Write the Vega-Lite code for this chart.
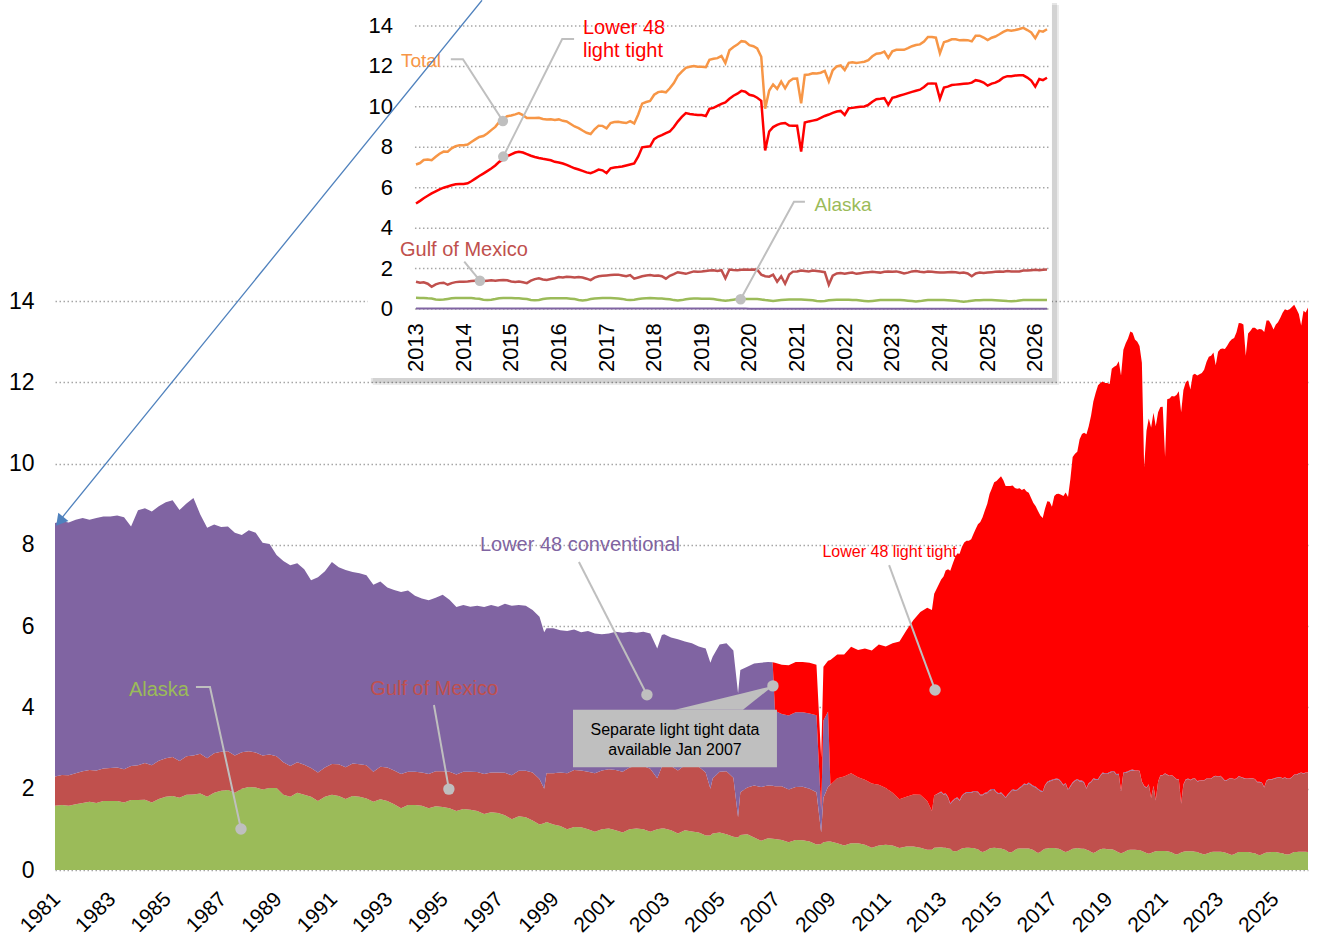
{
"$schema": "https://vega.github.io/schema/vega-lite/v6.json",
"width": 1253, "height": 569,
"autosize": {"type": "none"},
"padding": {"left": 55, "top": 301, "right": 10, "bottom": 65},
"background": "#ffffff",
"config": {"view": {"stroke": null}, "font": "Liberation Sans", "axis": {"labelFont": "Liberation Sans"}, "text": {"font": "Liberation Sans"}},
"datasets": {
"prod": [
{"d":"1981-01","alaska":1.58,"gulf":0.72,"l48conv":6.24,"l48tight":0},
{"d":"1981-04","alaska":1.6,"gulf":0.74,"l48conv":6.24,"l48tight":0},
{"d":"1981-07","alaska":1.58,"gulf":0.75,"l48conv":6.22,"l48tight":0},
{"d":"1981-10","alaska":1.62,"gulf":0.76,"l48conv":6.24,"l48tight":0},
{"d":"1982-01","alaska":1.65,"gulf":0.78,"l48conv":6.23,"l48tight":0},
{"d":"1982-04","alaska":1.68,"gulf":0.78,"l48conv":6.16,"l48tight":0},
{"d":"1982-07","alaska":1.65,"gulf":0.8,"l48conv":6.21,"l48tight":0},
{"d":"1982-10","alaska":1.7,"gulf":0.8,"l48conv":6.2,"l48tight":0},
{"d":"1983-01","alaska":1.7,"gulf":0.81,"l48conv":6.19,"l48tight":0},
{"d":"1983-04","alaska":1.7,"gulf":0.82,"l48conv":6.2,"l48tight":0},
{"d":"1983-07","alaska":1.66,"gulf":0.82,"l48conv":6.2,"l48tight":0},
{"d":"1983-10","alaska":1.72,"gulf":0.84,"l48conv":5.89,"l48tight":0},
{"d":"1984-01","alaska":1.72,"gulf":0.86,"l48conv":6.27,"l48tight":0},
{"d":"1984-04","alaska":1.73,"gulf":0.9,"l48conv":6.27,"l48tight":0},
{"d":"1984-07","alaska":1.66,"gulf":0.92,"l48conv":6.24,"l48tight":0},
{"d":"1984-10","alaska":1.75,"gulf":0.94,"l48conv":6.26,"l48tight":0},
{"d":"1985-01","alaska":1.8,"gulf":0.95,"l48conv":6.3,"l48tight":0},
{"d":"1985-04","alaska":1.82,"gulf":0.96,"l48conv":6.32,"l48tight":0},
{"d":"1985-07","alaska":1.78,"gulf":0.9,"l48conv":6.18,"l48tight":0},
{"d":"1985-10","alaska":1.85,"gulf":0.95,"l48conv":6.22,"l48tight":0},
{"d":"1986-01","alaska":1.86,"gulf":0.96,"l48conv":6.33,"l48tight":0},
{"d":"1986-04","alaska":1.88,"gulf":0.98,"l48conv":5.89,"l48tight":0},
{"d":"1986-07","alaska":1.8,"gulf":0.95,"l48conv":5.67,"l48tight":0},
{"d":"1986-10","alaska":1.9,"gulf":0.97,"l48conv":5.63,"l48tight":0},
{"d":"1987-01","alaska":1.95,"gulf":0.96,"l48conv":5.53,"l48tight":0},
{"d":"1987-04","alaska":1.97,"gulf":0.95,"l48conv":5.53,"l48tight":0},
{"d":"1987-07","alaska":1.9,"gulf":0.92,"l48conv":5.48,"l48tight":0},
{"d":"1987-10","alaska":2.0,"gulf":0.9,"l48conv":5.34,"l48tight":0},
{"d":"1988-01","alaska":2.04,"gulf":0.88,"l48conv":5.44,"l48tight":0},
{"d":"1988-04","alaska":2.03,"gulf":0.86,"l48conv":5.41,"l48tight":0},
{"d":"1988-07","alaska":1.98,"gulf":0.84,"l48conv":5.23,"l48tight":0},
{"d":"1988-10","alaska":2.02,"gulf":0.82,"l48conv":5.18,"l48tight":0},
{"d":"1989-01","alaska":2.02,"gulf":0.78,"l48conv":4.95,"l48tight":0},
{"d":"1989-04","alaska":1.85,"gulf":0.8,"l48conv":4.95,"l48tight":0},
{"d":"1989-07","alaska":1.8,"gulf":0.76,"l48conv":4.94,"l48tight":0},
{"d":"1989-10","alaska":1.9,"gulf":0.75,"l48conv":4.9,"l48tight":0},
{"d":"1990-01","alaska":1.85,"gulf":0.74,"l48conv":4.81,"l48tight":0},
{"d":"1990-04","alaska":1.8,"gulf":0.71,"l48conv":4.62,"l48tight":0},
{"d":"1990-07","alaska":1.7,"gulf":0.7,"l48conv":4.8,"l48tight":0},
{"d":"1990-10","alaska":1.8,"gulf":0.72,"l48conv":4.83,"l48tight":0},
{"d":"1991-01","alaska":1.85,"gulf":0.76,"l48conv":4.97,"l48tight":0},
{"d":"1991-04","alaska":1.82,"gulf":0.78,"l48conv":4.85,"l48tight":0},
{"d":"1991-07","alaska":1.75,"gulf":0.78,"l48conv":4.85,"l48tight":0},
{"d":"1991-10","alaska":1.82,"gulf":0.8,"l48conv":4.71,"l48tight":0},
{"d":"1992-01","alaska":1.8,"gulf":0.8,"l48conv":4.7,"l48tight":0},
{"d":"1992-04","alaska":1.76,"gulf":0.82,"l48conv":4.67,"l48tight":0},
{"d":"1992-07","alaska":1.68,"gulf":0.74,"l48conv":4.6,"l48tight":0},
{"d":"1992-10","alaska":1.74,"gulf":0.8,"l48conv":4.56,"l48tight":0},
{"d":"1993-01","alaska":1.7,"gulf":0.82,"l48conv":4.43,"l48tight":0},
{"d":"1993-04","alaska":1.62,"gulf":0.83,"l48conv":4.44,"l48tight":0},
{"d":"1993-07","alaska":1.52,"gulf":0.84,"l48conv":4.48,"l48tight":0},
{"d":"1993-10","alaska":1.6,"gulf":0.82,"l48conv":4.46,"l48tight":0},
{"d":"1994-01","alaska":1.6,"gulf":0.82,"l48conv":4.33,"l48tight":0},
{"d":"1994-04","alaska":1.58,"gulf":0.82,"l48conv":4.28,"l48tight":0},
{"d":"1994-07","alaska":1.52,"gulf":0.84,"l48conv":4.28,"l48tight":0},
{"d":"1994-10","alaska":1.57,"gulf":0.86,"l48conv":4.27,"l48tight":0},
{"d":"1995-01","alaska":1.55,"gulf":0.88,"l48conv":4.34,"l48tight":0},
{"d":"1995-04","alaska":1.52,"gulf":0.9,"l48conv":4.23,"l48tight":0},
{"d":"1995-07","alaska":1.45,"gulf":0.9,"l48conv":4.12,"l48tight":0},
{"d":"1995-10","alaska":1.5,"gulf":0.92,"l48conv":4.1,"l48tight":0},
{"d":"1996-01","alaska":1.48,"gulf":0.94,"l48conv":4.06,"l48tight":0},
{"d":"1996-04","alaska":1.45,"gulf":0.96,"l48conv":4.09,"l48tight":0},
{"d":"1996-07","alaska":1.38,"gulf":0.98,"l48conv":4.11,"l48tight":0},
{"d":"1996-10","alaska":1.42,"gulf":0.98,"l48conv":4.12,"l48tight":0},
{"d":"1997-01","alaska":1.4,"gulf":1.0,"l48conv":4.08,"l48tight":0},
{"d":"1997-04","alaska":1.35,"gulf":1.04,"l48conv":4.16,"l48tight":0},
{"d":"1997-07","alaska":1.25,"gulf":1.08,"l48conv":4.17,"l48tight":0},
{"d":"1997-10","alaska":1.32,"gulf":1.12,"l48conv":4.08,"l48tight":0},
{"d":"1998-01","alaska":1.3,"gulf":1.14,"l48conv":4.06,"l48tight":0},
{"d":"1998-04","alaska":1.22,"gulf":1.18,"l48conv":4.0,"l48tight":0},
{"d":"1998-07","alaska":1.12,"gulf":1.12,"l48conv":3.99,"l48tight":0},
{"d":"1998-09","alaska":1.15,"gulf":0.85,"l48conv":3.85,"l48tight":0},
{"d":"1998-10","alaska":1.18,"gulf":1.2,"l48conv":3.57,"l48tight":0},
{"d":"1999-01","alaska":1.12,"gulf":1.26,"l48conv":3.57,"l48tight":0},
{"d":"1999-04","alaska":1.08,"gulf":1.32,"l48conv":3.5,"l48tight":0},
{"d":"1999-07","alaska":1.0,"gulf":1.38,"l48conv":3.5,"l48tight":0},
{"d":"1999-10","alaska":1.06,"gulf":1.4,"l48conv":3.46,"l48tight":0},
{"d":"2000-01","alaska":1.05,"gulf":1.4,"l48conv":3.4,"l48tight":0},
{"d":"2000-04","alaska":1.0,"gulf":1.42,"l48conv":3.46,"l48tight":0},
{"d":"2000-07","alaska":0.94,"gulf":1.44,"l48conv":3.44,"l48tight":0},
{"d":"2000-10","alaska":1.0,"gulf":1.45,"l48conv":3.35,"l48tight":0},
{"d":"2001-01","alaska":1.02,"gulf":1.46,"l48conv":3.34,"l48tight":0},
{"d":"2001-04","alaska":0.98,"gulf":1.48,"l48conv":3.4,"l48tight":0},
{"d":"2001-07","alaska":0.92,"gulf":1.5,"l48conv":3.42,"l48tight":0},
{"d":"2001-10","alaska":1.0,"gulf":1.52,"l48conv":3.34,"l48tight":0},
{"d":"2002-01","alaska":1.02,"gulf":1.54,"l48conv":3.28,"l48tight":0},
{"d":"2002-04","alaska":1.0,"gulf":1.56,"l48conv":3.3,"l48tight":0},
{"d":"2002-07","alaska":0.94,"gulf":1.55,"l48conv":3.33,"l48tight":0},
{"d":"2002-10","alaska":1.0,"gulf":1.26,"l48conv":3.19,"l48tight":0},
{"d":"2002-12","alaska":1.02,"gulf":1.52,"l48conv":3.24,"l48tight":0},
{"d":"2003-01","alaska":1.02,"gulf":1.55,"l48conv":3.23,"l48tight":0},
{"d":"2003-04","alaska":0.98,"gulf":1.58,"l48conv":3.16,"l48tight":0},
{"d":"2003-07","alaska":0.9,"gulf":1.55,"l48conv":3.23,"l48tight":0},
{"d":"2003-10","alaska":0.98,"gulf":1.6,"l48conv":3.04,"l48tight":0},
{"d":"2004-01","alaska":0.95,"gulf":1.62,"l48conv":3.01,"l48tight":0},
{"d":"2004-04","alaska":0.92,"gulf":1.62,"l48conv":2.96,"l48tight":0},
{"d":"2004-07","alaska":0.85,"gulf":1.55,"l48conv":3.05,"l48tight":0},
{"d":"2004-09","alaska":0.85,"gulf":1.15,"l48conv":3.1,"l48tight":0},
{"d":"2004-10","alaska":0.9,"gulf":1.35,"l48conv":3.0,"l48tight":0},
{"d":"2005-01","alaska":0.92,"gulf":1.5,"l48conv":3.13,"l48tight":0},
{"d":"2005-04","alaska":0.88,"gulf":1.55,"l48conv":3.15,"l48tight":0},
{"d":"2005-07","alaska":0.82,"gulf":1.45,"l48conv":3.13,"l48tight":0},
{"d":"2005-09","alaska":0.8,"gulf":0.5,"l48conv":3.05,"l48tight":0},
{"d":"2005-10","alaska":0.86,"gulf":1.05,"l48conv":3.01,"l48tight":0},
{"d":"2006-01","alaska":0.88,"gulf":1.15,"l48conv":2.97,"l48tight":0},
{"d":"2006-04","alaska":0.8,"gulf":1.28,"l48conv":3.0,"l48tight":0},
{"d":"2006-07","alaska":0.72,"gulf":1.32,"l48conv":3.06,"l48tight":0},
{"d":"2006-10","alaska":0.78,"gulf":1.3,"l48conv":3.04,"l48tight":0},
{"d":"2006-12","alaska":0.77,"gulf":1.3,"l48conv":3.04,"l48tight":0},
{"d":"2007-01","alaska":0.76,"gulf":1.3,"l48conv":1.86,"l48tight":1.18},
{"d":"2007-04","alaska":0.74,"gulf":1.32,"l48conv":1.78,"l48tight":1.21},
{"d":"2007-07","alaska":0.68,"gulf":1.3,"l48conv":1.82,"l48tight":1.24},
{"d":"2007-10","alaska":0.74,"gulf":1.3,"l48conv":1.84,"l48tight":1.24},
{"d":"2008-01","alaska":0.73,"gulf":1.32,"l48conv":1.83,"l48tight":1.24},
{"d":"2008-04","alaska":0.7,"gulf":1.3,"l48conv":1.85,"l48tight":1.25},
{"d":"2008-07","alaska":0.63,"gulf":1.28,"l48conv":1.9,"l48tight":1.24},
{"d":"2008-09","alaska":0.64,"gulf":0.28,"l48conv":0.55,"l48tight":1.3},
{"d":"2008-10","alaska":0.68,"gulf":1.1,"l48conv":1.9,"l48tight":1.32},
{"d":"2008-12","alaska":0.7,"gulf":1.35,"l48conv":1.85,"l48tight":1.25},
{"d":"2009-01","alaska":0.7,"gulf":1.4,"l48conv":0,"l48tight":3.07},
{"d":"2009-04","alaska":0.66,"gulf":1.6,"l48conv":0,"l48tight":3.04},
{"d":"2009-07","alaska":0.6,"gulf":1.7,"l48conv":0,"l48tight":3.0},
{"d":"2009-10","alaska":0.66,"gulf":1.72,"l48conv":0,"l48tight":3.11},
{"d":"2010-01","alaska":0.66,"gulf":1.62,"l48conv":0,"l48tight":3.13},
{"d":"2010-04","alaska":0.62,"gulf":1.6,"l48conv":0,"l48tight":3.23},
{"d":"2010-07","alaska":0.55,"gulf":1.58,"l48conv":0,"l48tight":3.27},
{"d":"2010-10","alaska":0.6,"gulf":1.5,"l48conv":0,"l48tight":3.45},
{"d":"2011-01","alaska":0.62,"gulf":1.4,"l48conv":0,"l48tight":3.48},
{"d":"2011-04","alaska":0.6,"gulf":1.3,"l48conv":0,"l48tight":3.68},
{"d":"2011-07","alaska":0.54,"gulf":1.2,"l48conv":0,"l48tight":3.88},
{"d":"2011-10","alaska":0.58,"gulf":1.22,"l48conv":0,"l48tight":4.1},
{"d":"2012-01","alaska":0.58,"gulf":1.28,"l48conv":0,"l48tight":4.29},
{"d":"2012-04","alaska":0.55,"gulf":1.3,"l48conv":0,"l48tight":4.5},
{"d":"2012-07","alaska":0.5,"gulf":1.2,"l48conv":0,"l48tight":4.75},
{"d":"2012-09","alaska":0.5,"gulf":0.95,"l48conv":0,"l48tight":4.95},
{"d":"2012-10","alaska":0.55,"gulf":1.28,"l48conv":0,"l48tight":4.97},
{"d":"2013-01","alaska":0.56,"gulf":1.35,"l48conv":0.02,"l48tight":5.22},
{"d":"2013-02","alaska":0.55,"gulf":1.3,"l48conv":0.02,"l48tight":5.35},
{"d":"2013-03","alaska":0.55,"gulf":1.32,"l48conv":0.02,"l48tight":5.48},
{"d":"2013-04","alaska":0.53,"gulf":1.25,"l48conv":0.02,"l48tight":5.6},
{"d":"2013-05","alaska":0.52,"gulf":1.1,"l48conv":0.02,"l48tight":5.72},
{"d":"2013-06","alaska":0.47,"gulf":1.22,"l48conv":0.02,"l48tight":5.82},
{"d":"2013-07","alaska":0.46,"gulf":1.28,"l48conv":0.02,"l48tight":5.92},
{"d":"2013-08","alaska":0.47,"gulf":1.3,"l48conv":0.02,"l48tight":6.0},
{"d":"2013-09","alaska":0.5,"gulf":1.2,"l48conv":0.02,"l48tight":6.06},
{"d":"2013-10","alaska":0.53,"gulf":1.28,"l48conv":0.02,"l48tight":6.12},
{"d":"2013-11","alaska":0.54,"gulf":1.33,"l48conv":0.02,"l48tight":6.17},
{"d":"2013-12","alaska":0.55,"gulf":1.35,"l48conv":0.02,"l48tight":6.18},
{"d":"2014-01","alaska":0.55,"gulf":1.35,"l48conv":0.02,"l48tight":6.18},
{"d":"2014-02","alaska":0.54,"gulf":1.36,"l48conv":0.02,"l48tight":6.22},
{"d":"2014-03","alaska":0.54,"gulf":1.38,"l48conv":0.02,"l48tight":6.32},
{"d":"2014-04","alaska":0.52,"gulf":1.4,"l48conv":0.02,"l48tight":6.45},
{"d":"2014-05","alaska":0.51,"gulf":1.4,"l48conv":0.02,"l48tight":6.58},
{"d":"2014-06","alaska":0.46,"gulf":1.38,"l48conv":0.02,"l48tight":6.7},
{"d":"2014-07","alaska":0.44,"gulf":1.4,"l48conv":0.02,"l48tight":6.82},
{"d":"2014-08","alaska":0.46,"gulf":1.42,"l48conv":0.02,"l48tight":6.95},
{"d":"2014-09","alaska":0.49,"gulf":1.4,"l48conv":0.02,"l48tight":7.1},
{"d":"2014-10","alaska":0.53,"gulf":1.42,"l48conv":0.02,"l48tight":7.28},
{"d":"2014-11","alaska":0.54,"gulf":1.43,"l48conv":0.02,"l48tight":7.4},
{"d":"2014-12","alaska":0.55,"gulf":1.42,"l48conv":0.02,"l48tight":7.55},
{"d":"2015-01","alaska":0.54,"gulf":1.36,"l48conv":0.02,"l48tight":7.65},
{"d":"2015-02","alaska":0.53,"gulf":1.34,"l48conv":0.02,"l48tight":7.74},
{"d":"2015-03","alaska":0.53,"gulf":1.36,"l48conv":0.02,"l48tight":7.78},
{"d":"2015-04","alaska":0.51,"gulf":1.32,"l48conv":0.02,"l48tight":7.74},
{"d":"2015-05","alaska":0.49,"gulf":1.28,"l48conv":0.02,"l48tight":7.66},
{"d":"2015-06","alaska":0.45,"gulf":1.4,"l48conv":0.02,"l48tight":7.58},
{"d":"2015-07","alaska":0.43,"gulf":1.48,"l48conv":0.02,"l48tight":7.52},
{"d":"2015-08","alaska":0.45,"gulf":1.52,"l48conv":0.02,"l48tight":7.47},
{"d":"2015-09","alaska":0.49,"gulf":1.46,"l48conv":0.02,"l48tight":7.43},
{"d":"2015-10","alaska":0.52,"gulf":1.44,"l48conv":0.02,"l48tight":7.4},
{"d":"2015-11","alaska":0.53,"gulf":1.48,"l48conv":0.02,"l48tight":7.36},
{"d":"2015-12","alaska":0.53,"gulf":1.52,"l48conv":0.02,"l48tight":7.28},
{"d":"2016-01","alaska":0.53,"gulf":1.58,"l48conv":0.02,"l48tight":7.25},
{"d":"2016-02","alaska":0.53,"gulf":1.56,"l48conv":0.02,"l48tight":7.2},
{"d":"2016-03","alaska":0.53,"gulf":1.6,"l48conv":0.02,"l48tight":7.13},
{"d":"2016-04","alaska":0.51,"gulf":1.58,"l48conv":0.02,"l48tight":7.04},
{"d":"2016-05","alaska":0.49,"gulf":1.56,"l48conv":0.02,"l48tight":6.96},
{"d":"2016-06","alaska":0.45,"gulf":1.58,"l48conv":0.02,"l48tight":6.9},
{"d":"2016-07","alaska":0.42,"gulf":1.56,"l48conv":0.02,"l48tight":6.83},
{"d":"2016-08","alaska":0.44,"gulf":1.5,"l48conv":0.02,"l48tight":6.76},
{"d":"2016-09","alaska":0.49,"gulf":1.43,"l48conv":0.02,"l48tight":6.72},
{"d":"2016-10","alaska":0.52,"gulf":1.55,"l48conv":0.02,"l48tight":6.8},
{"d":"2016-11","alaska":0.53,"gulf":1.62,"l48conv":0.02,"l48tight":6.9},
{"d":"2016-12","alaska":0.54,"gulf":1.64,"l48conv":0.02,"l48tight":6.86},
{"d":"2017-01","alaska":0.54,"gulf":1.66,"l48conv":0.02,"l48tight":6.72},
{"d":"2017-02","alaska":0.54,"gulf":1.68,"l48conv":0.02,"l48tight":6.96},
{"d":"2017-03","alaska":0.53,"gulf":1.7,"l48conv":0.02,"l48tight":7.0},
{"d":"2017-04","alaska":0.52,"gulf":1.7,"l48conv":0.02,"l48tight":7.02},
{"d":"2017-05","alaska":0.5,"gulf":1.66,"l48conv":0.02,"l48tight":7.05},
{"d":"2017-06","alaska":0.46,"gulf":1.62,"l48conv":0.02,"l48tight":7.1},
{"d":"2017-07","alaska":0.44,"gulf":1.68,"l48conv":0.02,"l48tight":7.15},
{"d":"2017-08","alaska":0.46,"gulf":1.5,"l48conv":0.02,"l48tight":7.2},
{"d":"2017-09","alaska":0.49,"gulf":1.56,"l48conv":0.02,"l48tight":7.55},
{"d":"2017-10","alaska":0.52,"gulf":1.62,"l48conv":0.02,"l48tight":8.0},
{"d":"2017-11","alaska":0.53,"gulf":1.66,"l48conv":0.02,"l48tight":8.03},
{"d":"2017-12","alaska":0.54,"gulf":1.68,"l48conv":0.02,"l48tight":8.05},
{"d":"2018-01","alaska":0.53,"gulf":1.65,"l48conv":0.02,"l48tight":8.4},
{"d":"2018-02","alaska":0.52,"gulf":1.66,"l48conv":0.02,"l48tight":8.53},
{"d":"2018-03","alaska":0.52,"gulf":1.62,"l48conv":0.02,"l48tight":8.6},
{"d":"2018-04","alaska":0.5,"gulf":1.5,"l48conv":0.02,"l48tight":8.7},
{"d":"2018-05","alaska":0.48,"gulf":1.64,"l48conv":0.02,"l48tight":8.78},
{"d":"2018-06","alaska":0.44,"gulf":1.72,"l48conv":0.02,"l48tight":9.0},
{"d":"2018-07","alaska":0.42,"gulf":1.82,"l48conv":0.02,"l48tight":9.27},
{"d":"2018-08","alaska":0.44,"gulf":1.78,"l48conv":0.02,"l48tight":9.5},
{"d":"2018-09","alaska":0.48,"gulf":1.74,"l48conv":0.02,"l48tight":9.69},
{"d":"2018-10","alaska":0.51,"gulf":1.8,"l48conv":0.02,"l48tight":9.65},
{"d":"2018-11","alaska":0.52,"gulf":1.86,"l48conv":0.02,"l48tight":9.62},
{"d":"2018-12","alaska":0.52,"gulf":1.84,"l48conv":0.02,"l48tight":9.6},
{"d":"2019-01","alaska":0.51,"gulf":1.85,"l48conv":0.02,"l48tight":9.6},
{"d":"2019-02","alaska":0.51,"gulf":1.88,"l48conv":0.02,"l48tight":9.55},
{"d":"2019-03","alaska":0.51,"gulf":1.9,"l48conv":0.02,"l48tight":9.9},
{"d":"2019-04","alaska":0.49,"gulf":1.92,"l48conv":0.02,"l48tight":9.95},
{"d":"2019-05","alaska":0.46,"gulf":1.88,"l48conv":0.02,"l48tight":10.05},
{"d":"2019-06","alaska":0.43,"gulf":1.92,"l48conv":0.02,"l48tight":10.15},
{"d":"2019-07","alaska":0.41,"gulf":1.52,"l48conv":0.02,"l48tight":10.22},
{"d":"2019-08","alaska":0.43,"gulf":1.95,"l48conv":0.02,"l48tight":10.4},
{"d":"2019-09","alaska":0.46,"gulf":1.93,"l48conv":0.02,"l48tight":10.55},
{"d":"2019-10","alaska":0.49,"gulf":1.92,"l48conv":0.02,"l48tight":10.65},
{"d":"2019-11","alaska":0.5,"gulf":1.94,"l48conv":0.02,"l48tight":10.79},
{"d":"2019-12","alaska":0.5,"gulf":1.95,"l48conv":0.02,"l48tight":10.75},
{"d":"2020-01","alaska":0.5,"gulf":1.94,"l48conv":0.01,"l48tight":10.6},
{"d":"2020-02","alaska":0.49,"gulf":1.95,"l48conv":0.01,"l48tight":10.55},
{"d":"2020-03","alaska":0.49,"gulf":1.94,"l48conv":0.01,"l48tight":10.45},
{"d":"2020-04","alaska":0.47,"gulf":1.7,"l48conv":0.01,"l48tight":10.3},
{"d":"2020-05","alaska":0.44,"gulf":1.62,"l48conv":0.01,"l48tight":7.84},
{"d":"2020-06","alaska":0.42,"gulf":1.6,"l48conv":0.01,"l48tight":8.78},
{"d":"2020-07","alaska":0.4,"gulf":1.7,"l48conv":0.01,"l48tight":9.0},
{"d":"2020-08","alaska":0.42,"gulf":1.35,"l48conv":0.01,"l48tight":9.11},
{"d":"2020-09","alaska":0.44,"gulf":1.62,"l48conv":0.01,"l48tight":9.18},
{"d":"2020-10","alaska":0.46,"gulf":1.25,"l48conv":0.01,"l48tight":9.2},
{"d":"2020-11","alaska":0.47,"gulf":1.7,"l48conv":0.01,"l48tight":9.08},
{"d":"2020-12","alaska":0.47,"gulf":1.85,"l48conv":0.01,"l48tight":9.06},
{"d":"2021-01","alaska":0.47,"gulf":1.86,"l48conv":0.01,"l48tight":9.06},
{"d":"2021-02","alaska":0.47,"gulf":1.9,"l48conv":0.01,"l48tight":7.79},
{"d":"2021-03","alaska":0.46,"gulf":1.88,"l48conv":0.01,"l48tight":9.23},
{"d":"2021-04","alaska":0.45,"gulf":1.86,"l48conv":0.01,"l48tight":9.28},
{"d":"2021-05","alaska":0.43,"gulf":1.9,"l48conv":0.01,"l48tight":9.32},
{"d":"2021-06","alaska":0.4,"gulf":1.88,"l48conv":0.01,"l48tight":9.36},
{"d":"2021-07","alaska":0.38,"gulf":1.85,"l48conv":0.01,"l48tight":9.45},
{"d":"2021-08","alaska":0.4,"gulf":1.82,"l48conv":0.01,"l48tight":9.55},
{"d":"2021-09","alaska":0.43,"gulf":1.2,"l48conv":0.01,"l48tight":9.62},
{"d":"2021-10","alaska":0.45,"gulf":1.65,"l48conv":0.01,"l48tight":9.7},
{"d":"2021-11","alaska":0.46,"gulf":1.76,"l48conv":0.01,"l48tight":9.77},
{"d":"2021-12","alaska":0.46,"gulf":1.78,"l48conv":0.01,"l48tight":9.8},
{"d":"2022-01","alaska":0.46,"gulf":1.75,"l48conv":0.01,"l48tight":9.6},
{"d":"2022-02","alaska":0.46,"gulf":1.78,"l48conv":0.01,"l48tight":9.93},
{"d":"2022-03","alaska":0.45,"gulf":1.8,"l48conv":0.01,"l48tight":9.95},
{"d":"2022-04","alaska":0.44,"gulf":1.74,"l48conv":0.01,"l48tight":9.98},
{"d":"2022-05","alaska":0.42,"gulf":1.77,"l48conv":0.01,"l48tight":10.0},
{"d":"2022-06","alaska":0.4,"gulf":1.8,"l48conv":0.01,"l48tight":10.02},
{"d":"2022-07","alaska":0.38,"gulf":1.82,"l48conv":0.01,"l48tight":10.1},
{"d":"2022-08","alaska":0.4,"gulf":1.84,"l48conv":0.01,"l48tight":10.25},
{"d":"2022-09","alaska":0.42,"gulf":1.82,"l48conv":0.01,"l48tight":10.38},
{"d":"2022-10","alaska":0.44,"gulf":1.8,"l48conv":0.01,"l48tight":10.4},
{"d":"2022-11","alaska":0.45,"gulf":1.84,"l48conv":0.01,"l48tight":10.43},
{"d":"2022-12","alaska":0.45,"gulf":1.86,"l48conv":0.01,"l48tight":10.1},
{"d":"2023-01","alaska":0.45,"gulf":1.84,"l48conv":0.01,"l48tight":10.45},
{"d":"2023-02","alaska":0.45,"gulf":1.86,"l48conv":0.01,"l48tight":10.5},
{"d":"2023-03","alaska":0.44,"gulf":1.82,"l48conv":0.01,"l48tight":10.56},
{"d":"2023-04","alaska":0.43,"gulf":1.76,"l48conv":0.01,"l48tight":10.62},
{"d":"2023-05","alaska":0.41,"gulf":1.8,"l48conv":0.01,"l48tight":10.68},
{"d":"2023-06","alaska":0.39,"gulf":1.86,"l48conv":0.01,"l48tight":10.74},
{"d":"2023-07","alaska":0.37,"gulf":1.88,"l48conv":0.01,"l48tight":10.8},
{"d":"2023-08","alaska":0.39,"gulf":1.84,"l48conv":0.01,"l48tight":10.85},
{"d":"2023-09","alaska":0.42,"gulf":1.82,"l48conv":0.01,"l48tight":10.98},
{"d":"2023-10","alaska":0.44,"gulf":1.86,"l48conv":0.01,"l48tight":11.15},
{"d":"2023-11","alaska":0.44,"gulf":1.84,"l48conv":0.01,"l48tight":11.16},
{"d":"2023-12","alaska":0.44,"gulf":1.82,"l48conv":0.01,"l48tight":11.15},
{"d":"2024-01","alaska":0.44,"gulf":1.8,"l48conv":0.01,"l48tight":10.4},
{"d":"2024-02","alaska":0.44,"gulf":1.8,"l48conv":0.01,"l48tight":10.95},
{"d":"2024-03","alaska":0.43,"gulf":1.82,"l48conv":0.01,"l48tight":11.0},
{"d":"2024-04","alaska":0.42,"gulf":1.83,"l48conv":0.01,"l48tight":11.08},
{"d":"2024-05","alaska":0.41,"gulf":1.82,"l48conv":0.01,"l48tight":11.1},
{"d":"2024-06","alaska":0.38,"gulf":1.78,"l48conv":0.01,"l48tight":11.12},
{"d":"2024-07","alaska":0.36,"gulf":1.8,"l48conv":0.01,"l48tight":11.14},
{"d":"2024-08","alaska":0.38,"gulf":1.76,"l48conv":0.01,"l48tight":11.15},
{"d":"2024-09","alaska":0.41,"gulf":1.62,"l48conv":0.01,"l48tight":11.2},
{"d":"2024-10","alaska":0.43,"gulf":1.76,"l48conv":0.01,"l48tight":11.32},
{"d":"2024-11","alaska":0.43,"gulf":1.8,"l48conv":0.01,"l48tight":11.28},
{"d":"2024-12","alaska":0.44,"gulf":1.78,"l48conv":0.01,"l48tight":11.2},
{"d":"2025-01","alaska":0.44,"gulf":1.8,"l48conv":0.01,"l48tight":11.05},
{"d":"2025-02","alaska":0.44,"gulf":1.82,"l48conv":0.01,"l48tight":11.15},
{"d":"2025-03","alaska":0.43,"gulf":1.84,"l48conv":0.01,"l48tight":11.2},
{"d":"2025-04","alaska":0.42,"gulf":1.86,"l48conv":0.01,"l48tight":11.3},
{"d":"2025-05","alaska":0.41,"gulf":1.84,"l48conv":0.01,"l48tight":11.45},
{"d":"2025-06","alaska":0.39,"gulf":1.88,"l48conv":0.01,"l48tight":11.52},
{"d":"2025-07","alaska":0.38,"gulf":1.86,"l48conv":0.01,"l48tight":11.52},
{"d":"2025-08","alaska":0.39,"gulf":1.85,"l48conv":0.01,"l48tight":11.55},
{"d":"2025-09","alaska":0.42,"gulf":1.86,"l48conv":0.01,"l48tight":11.56},
{"d":"2025-10","alaska":0.44,"gulf":1.9,"l48conv":0.01,"l48tight":11.56},
{"d":"2025-11","alaska":0.44,"gulf":1.9,"l48conv":0.01,"l48tight":11.45},
{"d":"2025-12","alaska":0.45,"gulf":1.92,"l48conv":0.01,"l48tight":11.3},
{"d":"2026-01","alaska":0.45,"gulf":1.94,"l48conv":0.01,"l48tight":11.0},
{"d":"2026-02","alaska":0.45,"gulf":1.92,"l48conv":0.01,"l48tight":11.38},
{"d":"2026-03","alaska":0.45,"gulf":1.94,"l48conv":0.01,"l48tight":11.32},
{"d":"2026-04","alaska":0.44,"gulf":1.95,"l48conv":0.01,"l48tight":11.44}
]
},
"resolve": {"scale": {"x": "independent", "y": "independent"}},
"layer": [
{
"layer": [
{"data": {"name": "prod"},
 "transform": [{"fold": ["alaska", "gulf", "l48conv", "l48tight"], "as": ["series", "mbd"]}],
 "mark": {"type": "area", "strokeWidth": 0},
 "encoding": {
  "x": {"field": "d", "type": "temporal",
        "scale": {"domain": [{"year": 1981, "month": 1, "date": 1}, {"year": 2026, "month": 4, "date": 1}]},
        "axis": {"values": [{"year":1981,"month":1,"date":1},{"year":1983,"month":1,"date":1},{"year":1985,"month":1,"date":1},{"year":1987,"month":1,"date":1},{"year":1989,"month":1,"date":1},{"year":1991,"month":1,"date":1},{"year":1993,"month":1,"date":1},{"year":1995,"month":1,"date":1},{"year":1997,"month":1,"date":1},{"year":1999,"month":1,"date":1},{"year":2001,"month":1,"date":1},{"year":2003,"month":1,"date":1},{"year":2005,"month":1,"date":1},{"year":2007,"month":1,"date":1},{"year":2009,"month":1,"date":1},{"year":2011,"month":1,"date":1},{"year":2013,"month":1,"date":1},{"year":2015,"month":1,"date":1},{"year":2017,"month":1,"date":1},{"year":2019,"month":1,"date":1},{"year":2021,"month":1,"date":1},{"year":2023,"month":1,"date":1},{"year":2025,"month":1,"date":1}],
                 "format": "%Y", "labelAngle": -45, "labelAlign": "right", "labelBaseline": "top", "labelFontSize": 21, "labelColor": "#000000", "labelPadding": 18, "labelOffset": -6,
                 "domain": false, "ticks": false, "grid": false, "title": null, "labelOverlap": false, "labelFlush": false, "labelBound": false}},
  "y": {"field": "mbd", "type": "quantitative", "stack": "zero",
        "scale": {"domain": [0, 14], "nice": false},
        "axis": {"values": [0, 2, 4, 6, 8, 10, 12, 14], "title": null, "domain": false, "ticks": false, "labelFontSize": 23, "labelColor": "#000000", "labelPadding": 21,
                 "grid": true, "gridDash": [1.5, 2.5], "gridColor": "#A6A6A6", "gridWidth": 1.5}},
  "color": {"field": "series", "type": "nominal", "scale": {"domain": ["alaska", "gulf", "l48conv", "l48tight"], "range": ["#9BBB59", "#C0504D", "#8064A2", "#FF0000"]}, "legend": null},
  "order": {"field": "series", "sort": "ascending"}
 }},
{"data": {"values": [
  {"id":"ak","d":"1986-02-03","v":4.5},{"id":"ak","d":"1986-08-07","v":4.5},{"id":"ak","d":"1987-09-20","v":1.01},
  {"id":"gom","d":"1994-09-08","v":4.06},{"id":"gom","d":"1995-03-24","v":1.99},
  {"id":"conv","d":"1999-12-03","v":7.58},{"id":"conv","d":"2002-05-18","v":4.31},
  {"id":"tight","d":"2011-02-14","v":7.5},{"id":"tight","d":"2012-10-12","v":4.43}]},
 "mark": {"type": "line", "color": "#BFBFBF", "strokeWidth": 2},
 "encoding": {"x": {"field": "d", "type": "temporal"}, "y": {"field": "v", "type": "quantitative"}, "detail": {"field": "id"}}},
{"data": {"values": [
  {"d":"2003-05-23","top":3.94,"bot":3.94},{"d":"2005-11-05","top":4.35,"bot":3.94},{"d":"2006-12-05","top":4.53,"bot":4.53}]},
 "mark": {"type": "area", "color": "#BFBFBF"},
 "encoding": {"x": {"field": "d", "type": "temporal"}, "y": {"field": "top", "type": "quantitative"}, "y2": {"field": "bot"}}},
{"data": {"values": [
  {"d":"1987-09-20","v":1.01},{"d":"1995-03-24","v":1.99},{"d":"2002-05-18","v":4.31},{"d":"2012-10-12","v":4.43},{"d":"2006-12-05","v":4.53}]},
 "mark": {"type": "point", "filled": true, "color": "#BFBFBF", "opacity": 1, "size": 130},
 "encoding": {"x": {"field": "d", "type": "temporal"}, "y": {"field": "v", "type": "quantitative"}}},
{"data": {"values": [{"x0":"1999-09-16","x1":"2007-01-27","y0":3.94,"y1":2.53}]},
 "mark": {"type": "rect", "color": "#BFBFBF"},
 "encoding": {"x": {"field": "x0", "type": "temporal"}, "x2": {"field": "x1"}, "y": {"field": "y0", "type": "quantitative"}, "y2": {"field": "y1"}}},
{"data": {"values": [{"d":"2003-05-23","v":3.32,"t":"Separate light tight data"},{"d":"2003-05-23","v":2.83,"t":"available Jan 2007"}]},
 "mark": {"type": "text", "align": "center", "baseline": "alphabetic", "fontSize": 16, "color": "#000000"},
 "encoding": {"x": {"field": "d", "type": "temporal"}, "y": {"field": "v", "type": "quantitative"}, "text": {"field": "t"}}},
{"data": {"values": [{"d":"1984-10-03","v":4.28,"t":"Alaska"}]},
 "mark": {"type": "text", "align": "center", "baseline": "alphabetic", "fontSize": 20, "color": "#9BBB59"},
 "encoding": {"x": {"field": "d", "type": "temporal"}, "y": {"field": "v", "type": "quantitative"}, "text": {"field": "t"}}},
{"data": {"values": [{"d":"1994-09-12","v":4.31,"t":"Gulf of Mexico"}]},
 "mark": {"type": "text", "align": "center", "baseline": "alphabetic", "fontSize": 20, "color": "#C0504D"},
 "encoding": {"x": {"field": "d", "type": "temporal"}, "y": {"field": "v", "type": "quantitative"}, "text": {"field": "t"}}},
{"data": {"values": [{"d":"1999-12-17","v":7.85,"t":"Lower 48 conventional"}]},
 "mark": {"type": "text", "align": "center", "baseline": "alphabetic", "fontSize": 20, "color": "#8064A2"},
 "encoding": {"x": {"field": "d", "type": "temporal"}, "y": {"field": "v", "type": "quantitative"}, "text": {"field": "t"}}},
{"data": {"values": [{"d":"2011-02-21","v":7.71,"t":"Lower 48 light tight"}]},
 "mark": {"type": "text", "align": "center", "baseline": "alphabetic", "fontSize": 16, "color": "#FF0000"},
 "encoding": {"x": {"field": "d", "type": "temporal"}, "y": {"field": "v", "type": "quantitative"}, "text": {"field": "t"}}}
]
},
{
"layer": [
{"data": {"values": [{"x0":"2012-01-21","x1":"2026-06-17","y0":15.14,"y1":-3.66}]},
 "mark": {"type": "rect", "color": "#000000", "opacity": 0.1},
 "encoding": {
  "x": {"field": "x0", "type": "temporal", "scale": {"domain": [{"year": 2013, "month": 1, "date": 1}, {"year": 2026, "month": 4, "date": 1}], "range": [361, 992]}, "axis": null},
  "x2": {"field": "x1"},
  "y": {"field": "y0", "type": "quantitative", "scale": {"domain": [0, 14], "range": [8, -275], "nice": false, "zero": false}, "axis": null},
  "y2": {"field": "y1"}}},
{"data": {"values": [{"x0":"2012-02-05","x1":"2026-07-02","y0":15.04,"y1":-3.76}]},
 "mark": {"type": "rect", "color": "#000000", "opacity": 0.08},
 "encoding": {"x": {"field": "x0", "type": "temporal", "axis": null}, "x2": {"field": "x1"}, "y": {"field": "y0", "type": "quantitative", "axis": null}, "y2": {"field": "y1"}}},
{"data": {"values": [{"x0":"2011-12-28","x1":"2026-05-09","y0":15.29,"y1":-3.41}]},
 "mark": {"type": "rect", "color": "#FFFFFF", "opacity": 1},
 "encoding": {"x": {"field": "x0", "type": "temporal", "axis": null}, "x2": {"field": "x1"}, "y": {"field": "y0", "type": "quantitative", "axis": null}, "y2": {"field": "y1"}}},
{"data": {"values": [{"v":0},{"v":2},{"v":4},{"v":6},{"v":8},{"v":10},{"v":12},{"v":14}]},
 "mark": {"type": "rule", "color": "#A6A6A6", "strokeWidth": 1.5, "strokeDash": [1.5, 2.5]},
 "encoding": {"x": {"datum": {"year": 2012, "month": 12, "date": 24}, "type": "temporal", "axis": null}, "x2": {"datum": {"year": 2026, "month": 4, "date": 23}}, "y": {"field": "v", "type": "quantitative", "axis": null}}},
{"data": {"values": [{"v":0},{"v":2},{"v":4},{"v":6},{"v":8},{"v":10},{"v":12},{"v":14}]},
 "mark": {"type": "text", "align": "right", "baseline": "middle", "fontSize": 22, "color": "#000000"},
 "encoding": {"x": {"datum": {"year": 2012, "month": 7, "date": 8}, "type": "temporal", "axis": null}, "y": {"field": "v", "type": "quantitative", "axis": null}, "text": {"field": "v"}}},
{"data": {"values": [{"yr":"2013"},{"yr":"2014"},{"yr":"2015"},{"yr":"2016"},{"yr":"2017"},{"yr":"2018"},{"yr":"2019"},{"yr":"2020"},{"yr":"2021"},{"yr":"2022"},{"yr":"2023"},{"yr":"2024"},{"yr":"2025"},{"yr":"2026"}]},
 "mark": {"type": "text", "align": "right", "baseline": "middle", "angle": 270, "fontSize": 22, "color": "#000000"},
 "encoding": {"x": {"field": "yr", "type": "temporal", "axis": null}, "y": {"datum": -0.7, "type": "quantitative", "axis": null}, "text": {"field": "yr", "type": "temporal", "format": "%Y"}}},
{"data": {"name": "prod"}, "transform": [{"filter": "utcyear(datum.d) >= 2013"}],
 "mark": {"type": "line", "color": "#8064A2", "strokeWidth": 2},
 "encoding": {"x": {"field": "d", "type": "temporal", "axis": null}, "y": {"field": "l48conv", "type": "quantitative", "axis": null}}},
{"data": {"name": "prod"}, "transform": [{"filter": "utcyear(datum.d) >= 2013"}],
 "mark": {"type": "line", "color": "#9BBB59", "strokeWidth": 2.5},
 "encoding": {"x": {"field": "d", "type": "temporal", "axis": null}, "y": {"field": "alaska", "type": "quantitative", "axis": null}}},
{"data": {"name": "prod"}, "transform": [{"filter": "utcyear(datum.d) >= 2013"}],
 "mark": {"type": "line", "color": "#C0504D", "strokeWidth": 2.5},
 "encoding": {"x": {"field": "d", "type": "temporal", "axis": null}, "y": {"field": "gulf", "type": "quantitative", "axis": null}}},
{"data": {"name": "prod"}, "transform": [{"filter": "utcyear(datum.d) >= 2013"}],
 "mark": {"type": "line", "color": "#FF0000", "strokeWidth": 2.5},
 "encoding": {"x": {"field": "d", "type": "temporal", "axis": null}, "y": {"field": "l48tight", "type": "quantitative", "axis": null}}},
{"data": {"name": "prod"},
 "transform": [{"filter": "utcyear(datum.d) >= 2013"}, {"fold": ["alaska", "gulf", "l48conv", "l48tight"], "as": ["series", "mbd"]}, {"aggregate": [{"op": "sum", "field": "mbd", "as": "total"}], "groupby": ["d"]}],
 "mark": {"type": "line", "color": "#F79646", "strokeWidth": 2.5},
 "encoding": {"x": {"field": "d", "type": "temporal", "axis": null}, "y": {"field": "total", "type": "quantitative", "axis": null}}},
{"data": {"values": [
  {"id":"tot","d":"2013-09-25","v":12.36},{"id":"tot","d":"2013-12-27","v":12.36},{"id":"tot","d":"2014-10-29","v":9.3},
  {"id":"tt","d":"2016-04-27","v":13.36},{"id":"tt","d":"2016-01-27","v":13.36},{"id":"tt","d":"2014-11-01","v":7.54},
  {"id":"gom","d":"2014-01-06","v":2.34},{"id":"gom","d":"2014-05-06","v":1.4},
  {"id":"ak","d":"2021-03-02","v":5.31},{"id":"ak","d":"2020-12-08","v":5.31},{"id":"ak","d":"2019-10-26","v":0.48}]},
 "mark": {"type": "line", "color": "#BFBFBF", "strokeWidth": 2},
 "encoding": {"x": {"field": "d", "type": "temporal", "axis": null}, "y": {"field": "v", "type": "quantitative", "axis": null}, "detail": {"field": "id"}}},
{"data": {"values": [{"d":"2014-10-29","v":9.3},{"d":"2014-11-01","v":7.54},{"d":"2014-05-06","v":1.4},{"d":"2019-10-26","v":0.48}]},
 "mark": {"type": "point", "filled": true, "color": "#BFBFBF", "opacity": 1, "size": 110},
 "encoding": {"x": {"field": "d", "type": "temporal", "axis": null}, "y": {"field": "v", "type": "quantitative", "axis": null}}},
{"data": {"values": [{"d":"2013-02-08","v":11.99,"t":"Total"}]},
 "mark": {"type": "text", "align": "center", "baseline": "alphabetic", "fontSize": 19, "color": "#F79646"},
 "encoding": {"x": {"field": "d", "type": "temporal", "axis": null}, "y": {"field": "v", "type": "quantitative", "axis": null}, "text": {"field": "t"}}},
{"data": {"values": [{"d":"2016-07-04","v":13.58,"t":"Lower 48"},{"d":"2016-07-04","v":12.47,"t":"light tight"}]},
 "mark": {"type": "text", "align": "left", "baseline": "alphabetic", "fontSize": 20, "color": "#FF0000"},
 "encoding": {"x": {"field": "d", "type": "temporal", "axis": null}, "y": {"field": "v", "type": "quantitative", "axis": null}, "text": {"field": "t"}}},
{"data": {"values": [{"d":"2014-01-03","v":2.62,"t":"Gulf of Mexico"}]},
 "mark": {"type": "text", "align": "center", "baseline": "alphabetic", "fontSize": 20, "color": "#C0504D"},
 "encoding": {"x": {"field": "d", "type": "temporal", "axis": null}, "y": {"field": "v", "type": "quantitative", "axis": null}, "text": {"field": "t"}}},
{"data": {"values": [{"d":"2021-12-19","v":4.86,"t":"Alaska"}]},
 "mark": {"type": "text", "align": "center", "baseline": "alphabetic", "fontSize": 19, "color": "#9BBB59"},
 "encoding": {"x": {"field": "d", "type": "temporal", "axis": null}, "y": {"field": "v", "type": "quantitative", "axis": null}, "text": {"field": "t"}}}
]
},
{
"layer": [
{"data": {"values": [{"d":"1996-06-03","v":21.4},{"d":"1981-01-20","v":8.5}]},
 "mark": {"type": "line", "color": "#4F81BD", "strokeWidth": 1.3},
 "encoding": {
  "x": {"field": "d", "type": "temporal", "scale": {"domain": [{"year": 1981, "month": 1, "date": 1}, {"year": 2026, "month": 4, "date": 1}]}, "axis": null},
  "y": {"field": "v", "type": "quantitative", "scale": {"domain": [0, 14], "nice": false, "zero": false}, "axis": null}}},
{"data": {"values": [{"d":"1981-03-05","v":8.58}]},
 "mark": {"type": "point", "shape": "triangle-up", "filled": true, "color": "#4F81BD", "opacity": 1, "size": 170, "angle": 219},
 "encoding": {"x": {"field": "d", "type": "temporal", "axis": null}, "y": {"field": "v", "type": "quantitative", "axis": null}}}
]
}
]
}
